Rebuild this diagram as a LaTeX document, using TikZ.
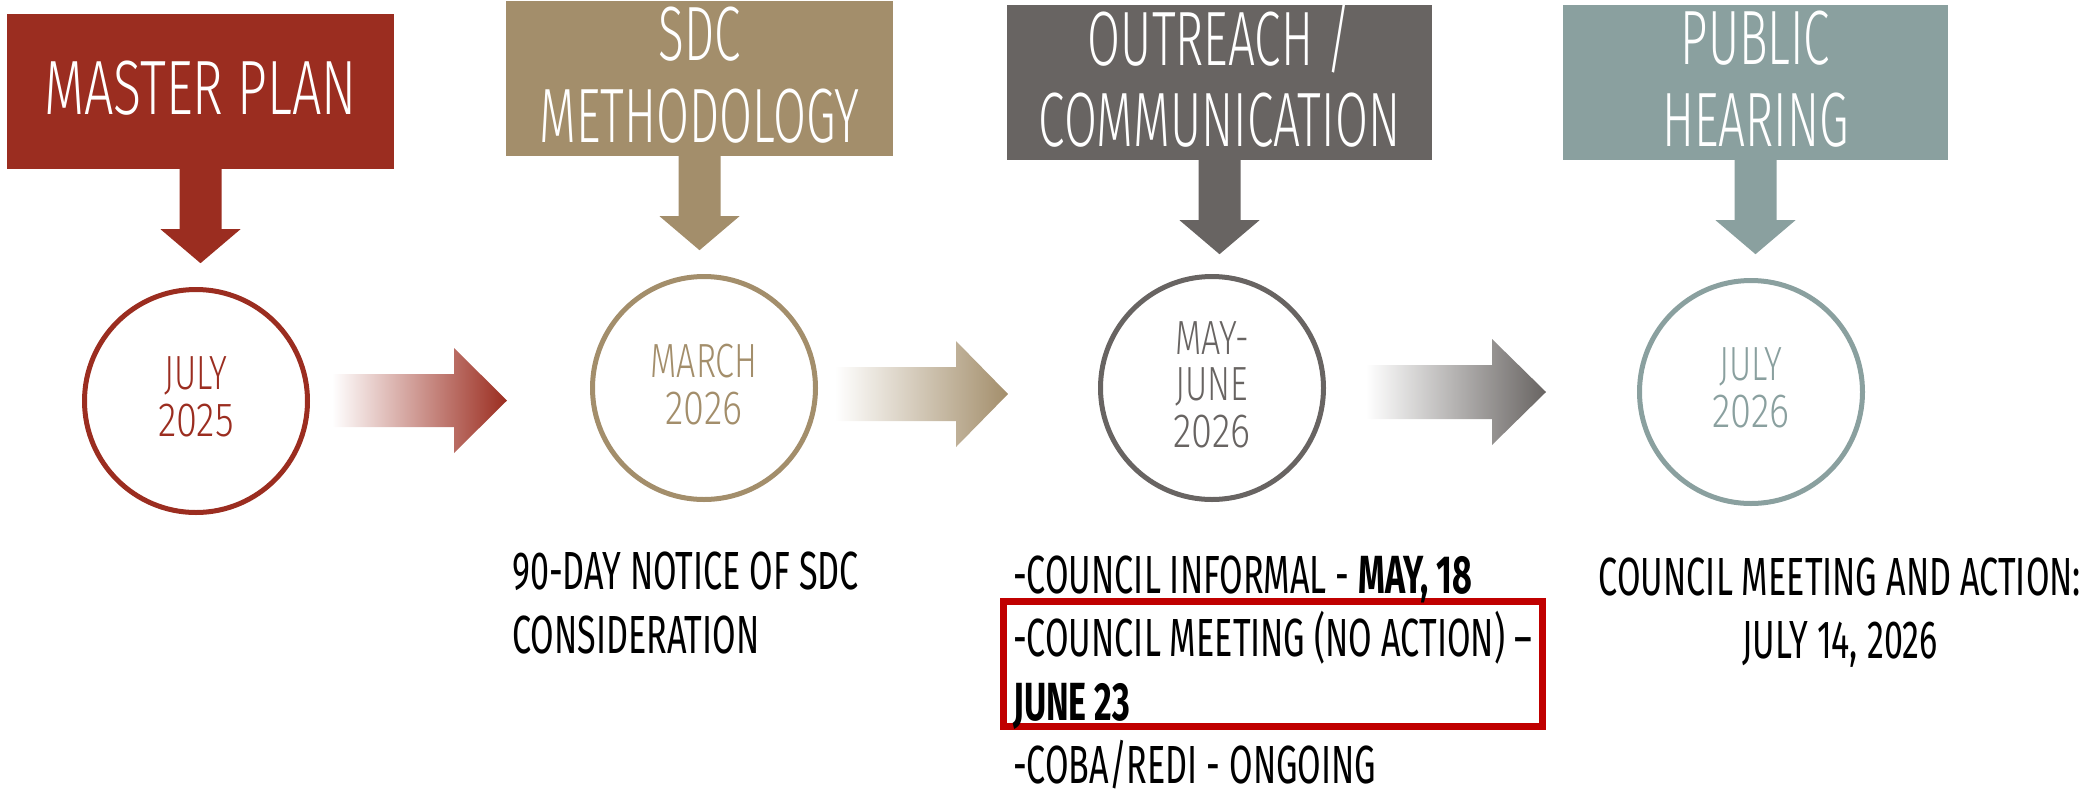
\documentclass[tikz,border=0pt]{standalone}
\usepackage{fontspec}
\setmainfont{Fira Sans}[FakeStretch=0.635]
\newfontfamily\lightfont{Fira Sans Light}[FakeStretch=0.62]
\newfontfamily\ringfont{Fira Sans Light}[FakeStretch=0.71]
\usetikzlibrary{calc}
\definecolor{cRed}{HTML}{9B2D20}
\definecolor{cTan}{HTML}{A38E6B}
\definecolor{cGray}{HTML}{686462}
\definecolor{cTeal}{HTML}{8AA09F}
\definecolor{hiRed}{HTML}{C00000}
\newcommand{\wideyear}[1]{\scalebox{1.12}[1]{#1}}
\begin{document}
\begin{tikzpicture}[x=1pt,y=-1pt,
  hdrbox/.style={rectangle, draw=none, inner sep=0, minimum width=387, minimum height=155},
  hdrtxt/.style={anchor=base, inner sep=0, text=white, font=\lightfont\fontsize{77}{80}\selectfont},
  ring/.style={circle, draw=#1, line width=5, minimum size=223, inner sep=0},
  ringtxt/.style={anchor=base, inner sep=0, text=#1, font=\ringfont\fontsize{48}{50}\selectfont},
  body/.style={inner sep=0, text=black, font=\fontsize{53.7}{56}\selectfont},
  hilite/.style={rectangle, draw=hiRed, line width=7, inner sep=0}
]
\useasboundingbox (0,0) rectangle (2083,788);

% header boxes
\node[hdrbox, fill=cRed] (b1) at (200.5,91.5) {};
\node[hdrbox, fill=cTan] (b2) at (699.5,78.5) {};
\node[hdrbox, fill=cGray, minimum width=425] (b3) at (1219.5,82.5) {};
\node[hdrbox, fill=cTeal, minimum width=385] (b4) at (1755.5,82.5) {};

\node[hdrtxt] (b1t) at (200.5,114) {\scalebox{1.09}[1]{MASTER PLAN}};
\node[hdrtxt] (b2t1) at (699.5,60) {SDC};
\node[hdrtxt] (b2t2) at (699.5,142) {METHODOLOGY};
\node[hdrtxt] (b3t1) at (1219.5,65) {OUTREACH /};
\node[hdrtxt] (b3t2) at (1219.5,146) {COMMUNICATION};
\node[hdrtxt] (b4t1) at (1755.5,64) {PUBLIC};
\node[hdrtxt] (b4t2) at (1755.5,146) {HEARING};

% down block arrows
\foreach \b/\c in {b1/cRed, b2/cTan, b3/cGray, b4/cTeal}{
  \fill[\c] ($(\b.south)+(-21,0)$) -- ($(\b.south)+(21,0)$) -- ($(\b.south)+(21,60)$)
    -- ($(\b.south)+(40,60)$) -- ($(\b.south)+(0,94)$) -- ($(\b.south)+(-40,60)$)
    -- ($(\b.south)+(-21,60)$) -- cycle;
}

% circles
\node[ring=cRed] (c1) at (196,401) {};
\node[ring=cTan] (c2) at (704,388) {};
\node[ring=cGray] (c3) at (1212,388) {};
\node[ring=cTeal] (c4) at (1751,392) {};

\node[ringtxt=cRed] (c1a) at (196,389) {JULY};
\node[ringtxt=cRed] (c1b) at (196,436) {\wideyear{2025}};
\node[ringtxt=cTan] (c2a) at (704,377) {MARCH};
\node[ringtxt=cTan] (c2b) at (704,424) {\wideyear{2026}};
\node[ringtxt=cGray] (c3a) at (1212,354) {MAY-};
\node[ringtxt=cGray] (c3b) at (1212,400) {JUNE};
\node[ringtxt=cGray] (c3c) at (1212,447) {\wideyear{2026}};
\node[ringtxt=cTeal] (c4a) at (1751,380) {JULY};
\node[ringtxt=cTeal] (c4b) at (1751,427) {\wideyear{2026}};

% gradient arrows
\shade[left color=white, right color=cRed] (332,374) -- (454,374) -- (454,348) -- (507,400.5)
  -- (454,453) -- (454,427) -- (332,427) -- cycle;
\shade[left color=white, right color=cTan] (835,367) -- (956,367) -- (956,341) -- (1008,394)
  -- (956,447) -- (956,421) -- (835,421) -- cycle;
\shade[left color=white, right color=cGray] (1366,365) -- (1492,365) -- (1492,339) -- (1546,392)
  -- (1492,445) -- (1492,419) -- (1366,419) -- cycle;

% bottom texts
\node[body, anchor=base west] (n1) at (512,589) {90-DAY NOTICE OF SDC};
\node[body, anchor=base west] (n2) at (512,653) {CONSIDERATION};

\node[hilite, minimum width=539, minimum height=125] (hl) at (1273,664) {};
\node[body, anchor=base west] (o1) at (1013,593) {-COUNCIL INFORMAL - \textbf{MAY, 18}};
\node[body, anchor=base west] (o2) at (1013,656) {-COUNCIL MEETING (NO ACTION) –};
\node[body, anchor=base west] (o3) at (1013,720) {\textbf{JUNE 23}};
\node[body, anchor=base west] (o4) at (1013,783) {-COBA/REDI - ONGOING};

\node[body, anchor=base] (p1) at (1840,595) {COUNCIL MEETING AND ACTION:};
\node[body, anchor=base] (p2) at (1840,658) {JULY 14, 2026};
\end{tikzpicture}
\end{document}
